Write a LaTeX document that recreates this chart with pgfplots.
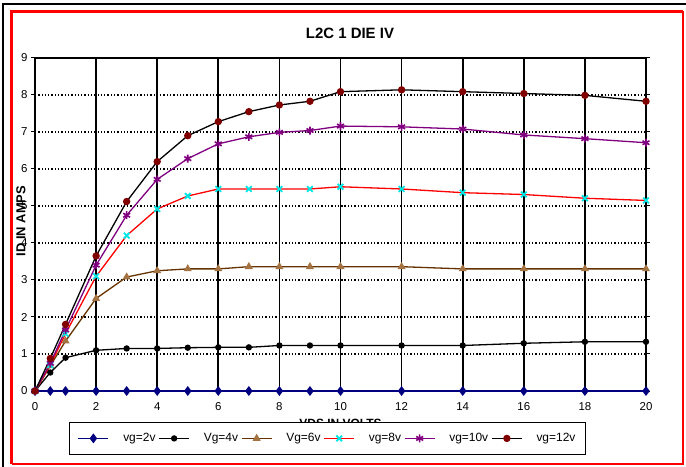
\documentclass[border=0pt]{standalone}
\usepackage{pgfplots}
\pgfplotsset{compat=1.18}
\usepackage{fontspec}
\setmainfont{Liberation Sans}

\definecolor{vgnavy}{RGB}{0,0,128}
\definecolor{vgbrown}{RGB}{102,51,0}
\definecolor{vgtan}{RGB}{165,115,65}
\definecolor{vgcyan}{RGB}{0,230,230}
\definecolor{vgpurple}{RGB}{128,0,128}
\definecolor{vgdark}{RGB}{128,0,0}

\begin{document}
\begin{tikzpicture}
% picture is 686 x 467 bp, one bp per reference pixel
\path[use as bounding box] (0bp,0bp) rectangle (686bp,467bp);
\fill[white] (0bp,0bp) rectangle (686bp,467bp);
% outer frame
\draw[black, line width=1.5bp] (3bp,0bp) -- (3bp,463bp) -- (686bp,463bp);
\draw[red, line width=3bp] (11.5bp,3bp) -- (11.5bp,455.5bp) -- (683bp,455.5bp);
\draw[red, line width=2bp] (11.5bp,3bp) -- (683bp,3bp) -- (683bp,455.5bp);

\begin{axis}[
  at={(35bp,76bp)}, anchor=south west,
  scale only axis, width=611bp, height=333bp,
  xmin=0, xmax=20, ymin=0, ymax=9,
  xtick distance=2, ytick distance=1,
  clip=false,
  /pgf/number format/assume math mode=true,
  tick label style={font=\fontsize{11.5}{13}\selectfont},
  xticklabel style={yshift=-4bp},
  tick align=outside, major tick length=4bp,
  xtick style={draw=none},
  ytick style={black, line width=1bp},
  axis line style={black, line width=1.5bp},
  grid=major,
  x grid style={black, line width=1.7bp},
  y grid style={black, line width=1.3bp, dotted},
  title={L2C 1 DIE IV},
  title style={font=\bfseries\fontsize{15}{17}\selectfont, at={(axis description cs:0.5155,1.057)}, anchor=center},
  xlabel={VDS IN VOLTS},
  xlabel style={font=\bfseries\fontsize{12}{14}\selectfont, at={(axis description cs:0.5,-0.097)}, anchor=center},
  ylabel={ID IN AMPS},
  ylabel style={font=\bfseries\fontsize{13}{15}\selectfont, at={(axis description cs:-0.023,0.51)}, anchor=center},
  legend columns=6,
  legend cell align=left,
  legend style={at={(axis description cs:0.0556,-0.0931)}, anchor=north west,
    draw=black, line width=1bp, fill=white,
    font=\fontsize{12}{14}\selectfont,
    inner xsep=8bp, inner ysep=9bp,
    /tikz/every even column/.append style={column sep=1bp},
    /tikz/every odd column/.append style={column sep=12bp}},
  legend image code/.code={\draw[mark repeat=2,mark phase=2,#1] plot coordinates {(0bp,0bp) (15bp,0bp) (30bp,0bp)};},
]
\addplot[vgnavy, line width=1.8bp, mark=diamond*, mark size=3.5bp, mark options={solid, fill=vgnavy, draw=vgnavy}] coordinates {
  (0,0) (0.5,0) (1,0) (2,0) (3,0) (4,0) (5,0) (6,0) (7,0) (8,0) (9,0) (10,0) (12,0) (14,0) (16,0) (18,0) (20,0)
};
\addlegendentry{vg=2v}

\addplot[black, line width=1.3bp, mark=*, mark size=2.5bp, mark options={solid, fill=black}] coordinates {
  (0,0) (0.5,0.5) (1,0.9) (2,1.1) (3,1.15) (4,1.15) (5,1.17) (6,1.18) (7,1.18) (8,1.23) (9,1.23) (10,1.23) (12,1.23) (14,1.23) (16,1.29) (18,1.33) (20,1.33)
};
\addlegendentry{Vg=4v}

\addplot[vgbrown, line width=1.3bp, mark=triangle*, mark size=3.4bp, mark options={solid, fill=vgtan, draw=vgtan}] coordinates {
  (0,0) (0.5,0.68) (1,1.35) (2,2.5) (3,3.08) (4,3.25) (5,3.3) (6,3.3) (7,3.36) (8,3.36) (9,3.36) (10,3.36) (12,3.36) (14,3.3) (16,3.3) (18,3.3) (20,3.3)
};
\addlegendentry{Vg=6v}

\addplot[red, line width=1.3bp, mark=x, mark size=4bp, mark options={solid, draw=vgcyan, line width=1.8bp}] coordinates {
  (0,0) (0.5,0.7) (1,1.55) (2,3.1) (3,4.2) (4,4.92) (5,5.27) (6,5.46) (7,5.46) (8,5.46) (9,5.46) (10,5.52) (12,5.46) (14,5.36) (16,5.31) (18,5.21) (20,5.15)
};
\addlegendentry{vg=8v}

\addplot[vgpurple, line width=1.3bp, mark=asterisk, mark size=4bp, mark options={solid, draw=vgpurple, line width=1.6bp}] coordinates {
  (0,0) (0.5,0.75) (1,1.65) (2,3.4) (3,4.75) (4,5.72) (5,6.28) (6,6.68) (7,6.87) (8,6.99) (9,7.04) (10,7.16) (12,7.14) (14,7.08) (16,6.92) (18,6.82) (20,6.71)
};
\addlegendentry{vg=10v}

\addplot[black, line width=1.3bp, mark=*, mark size=3bp, mark options={solid, fill=vgdark, draw=vgdark}] coordinates {
  (0,0) (0.5,0.88) (1,1.8) (2,3.65) (3,5.12) (4,6.2) (5,6.9) (6,7.28) (7,7.55) (8,7.73) (9,7.83) (10,8.09) (12,8.14) (14,8.09) (16,8.04) (18,7.99) (20,7.83)
};
\addlegendentry{vg=12v}
\end{axis}
\end{tikzpicture}
\end{document}
